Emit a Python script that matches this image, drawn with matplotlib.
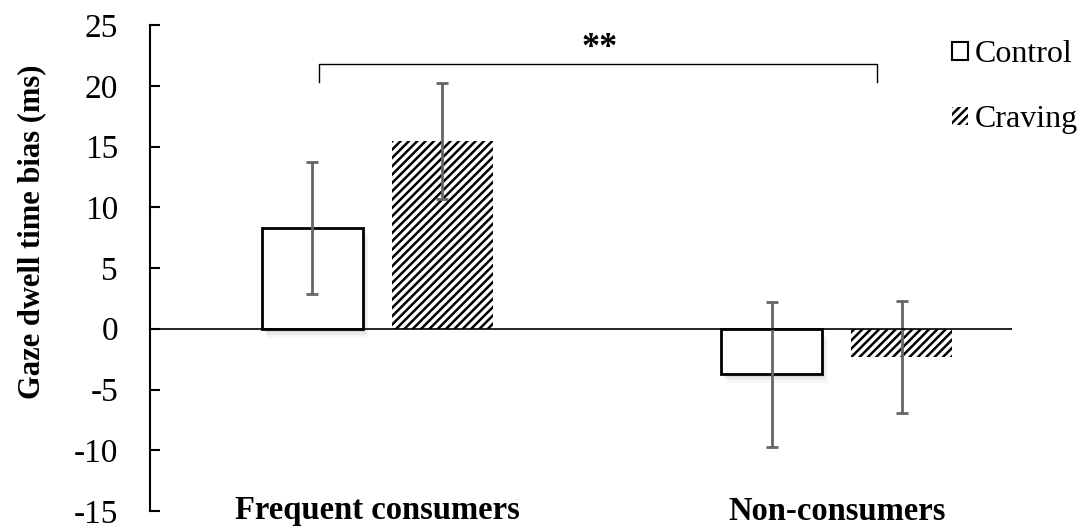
import numpy as np
import matplotlib.pyplot as plt
from matplotlib.patches import Rectangle

# data
groups = ["Frequent consumers", "Non-consumers"]
conditions = ["Control", "Craving"]
control_mean = [8.3, -3.75]
control_err = [5.45, 5.95]
craving_mean = [15.45, -2.3]
craving_err = [4.75, 4.6]
yticks = [-15, -10, -5, 0, 5, 10, 15, 20, 25]

plt.rcParams['font.family'] = ['Liberation Serif', 'DejaVu Serif']
plt.rcParams['hatch.linewidth'] = 1.8

fig = plt.figure(figsize=(10.84, 5.29), dpi=100)
ax = fig.add_axes([150/1084, 1-511/529, (1012-150)/1084, (511-25)/529])

x = np.arange(len(groups))
width = 0.22
off = 0.1415
errcol = "#666666"

# soft shadow under the control bars
for xi, m in zip(x - off, control_mean):
    for k, a in enumerate([0.07, 0.05, 0.03]):
        d = 0.004 * (k + 1)
        ax.add_patch(Rectangle((xi - width/2 + d, min(0, m) - 0.25*(k+1)), width, abs(m),
                               facecolor="black", alpha=a, edgecolor="none", zorder=1))

ax.bar(x - off, control_mean, width, facecolor="white", edgecolor="black",
       linewidth=2, zorder=2)
ax.bar(x + off, craving_mean, width, facecolor="white", edgecolor="black",
       linewidth=0, hatch="////", zorder=2)
ax.errorbar(x - off, control_mean, yerr=control_err, fmt="none", ecolor=errcol,
            elinewidth=2, capsize=4.5, capthick=2, zorder=3)
ax.errorbar(x + off, craving_mean, yerr=craving_err, fmt="none", ecolor=errcol,
            elinewidth=2, capsize=4.5, capthick=2, zorder=3)

ax.axhline(0, color="black", linewidth=1.2, zorder=4)

ax.set_xlim(-0.495, 1.381)
ax.set_ylim(-15, 25)
ax.set_yticks(yticks)
ax.set_yticklabels([str(t) for t in yticks], fontsize=24)
ax.tick_params(axis="y", direction="in", length=7, width=1.5, pad=23)
ax.set_xticks([])
for s in ["top", "right", "bottom"]:
    ax.spines[s].set_visible(False)
ax.spines["left"].set_linewidth(1.5)

fig.text(32/1084, 1-232/529, "Gaze dwell time bias (ms)", rotation=90,
         ha="center", va="center", fontsize=22, fontweight="bold")

for xi, g in zip(x, groups):
    ax.text(xi, -15, g, ha="center", va="center", fontsize=23.5, fontweight="bold")

# significance bracket
bx0, bx1 = -0.127, 1.087
ax.plot([bx0, bx0, bx1, bx1], [20.27, 21.75, 21.75, 20.27], color="black",
        linewidth=1, clip_on=False)
ax.text(0.484, 23.1, "**", ha="center", va="center", fontsize=26, fontweight="bold")

handles = [Rectangle((0, 0), 1, 1, facecolor="white", edgecolor="black", linewidth=1.5),
           Rectangle((0, 0), 1, 1, facecolor="white", edgecolor="black", linewidth=0,
                     hatch="////")]
fig.legend(handles, conditions, loc="upper left", bbox_to_anchor=(946/1084, 1-34/529),
           frameon=False, fontsize=23, handlelength=0.5, handleheight=0.5,
           handletextpad=0.2, labelspacing=1.12, borderaxespad=0, borderpad=0.2)

fig.savefig("out.png", dpi=100)
